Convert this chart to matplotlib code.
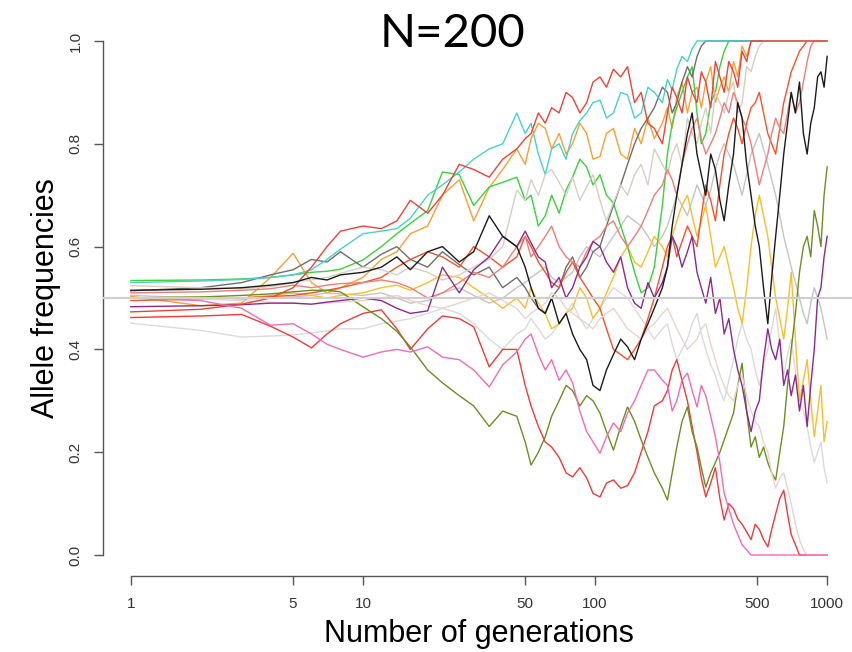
import matplotlib
matplotlib.use("Agg")
import matplotlib.pyplot as plt

# generations sampled along the log axis
generations = [1, 2, 3, 4, 5, 6, 7, 8,
               10, 12, 14, 16, 19, 22, 26, 30, 35, 40,
               46, 50, 53, 57, 61, 65, 70, 75, 80, 86, 92, 98, 105, 112, 120, 129, 138, 148, 158, 169, 180,
               195, 205, 215, 225, 237, 250, 262, 275, 287, 300, 315, 330, 345, 360, 377, 395, 412, 430, 450, 470,
               490, 510, 532, 555, 577, 600, 625, 650, 675, 700, 730, 760, 790, 820, 850, 880, 910, 940, 970, 1000]

cyan = [.530, .533, .536, .540, .545, .555, .575, .595,
        .625, .630, .635, .655, .700, .720, .745, .770, .790, .800,
        .860, .820, .840, .780, .740, .790, .800, .770, .820, .845, .860, .880, .885, .850, .860, .900, .895, .850, .860, .910, .900,
        .880, .925, .905, .945, .970, .960, .985, 1, 1, 1, 1, 1, 1, 1, 1, 1, 1, 1, 1, 1,
        1, 1, 1, 1, 1, 1, 1, 1, 1, 1, 1, 1, 1, 1, 1, 1, 1, 1, 1, 1]
red_top = [.473, .478, .488, .500, .520, .560, .600, .630,
           .640, .635, .650, .690, .665, .700, .760, .750, .735, .770,
           .790, .810, .820, .860, .840, .870, .860, .900, .890, .860, .880, .920, .930, .910, .945, .930, .950, .880, .900, .840, .830,
           .800, .860, .910, .890, .860, .930, .900, .880, .940, .920, .870, .960, .930, .900, .960, .940, .910, .980, .960, 1,
           1, 1, 1, 1, 1, 1, 1, 1, 1, 1, 1, 1, 1, 1, 1, 1, 1, 1, 1, 1]
orange = [.503, .485, .490, .540, .587, .530, .510, .520,
          .540, .575, .590, .625, .640, .700, .730, .650, .715, .750,
          .790, .760, .810, .840, .830, .790, .820, .780, .800, .840, .820, .770, .775, .820, .830, .780, .770, .830, .800, .850, .810,
          .840, .870, .830, .890, .920, .860, .900, .910, .870, .920, .950, .880, .910, .930, .900, .960, .930, .990, .970, 1,
          1, 1, 1, 1, 1, 1, 1, 1, 1, 1, 1, 1, 1, 1, 1, 1, 1, 1, 1, 1]
green = [.534, .535, .537, .540, .545, .550, .552, .556,
         .574, .600, .625, .645, .670, .745, .740, .680, .716, .725,
         .735, .690, .700, .640, .660, .700, .665, .710, .735, .770, .755, .720, .740, .700, .685, .640, .600, .550, .510, .520, .560,
         .680, .780, .840, .870, .900, .930, .950, .860, .800, .820, .880, .900, .950, .980, 1, 1, 1, 1, 1, 1,
         1, 1, 1, 1, 1, 1, 1, 1, 1, 1, 1, 1, 1, 1, 1, 1, 1, 1, 1, 1]
tan = [.524, .520, .518, .522, .530, .535, .540, .548,
       .560, .555, .545, .560, .550, .535, .545, .560, .575, .600,
       .710, .690, .730, .700, .740, .750, .725, .700, .735, .690, .716, .740, .690, .650, .685, .720, .700, .740, .760, .720, .790,
       .760, .740, .780, .800, .760, .850, .820, .800, .840, .870, .820, .900, .880, .860, .900, .920, .860, .880, .950, .940,
       .970, .990, 1, 1, 1, 1, 1, 1, 1, 1, 1, 1, 1, 1, 1, 1, 1, 1, 1, 1]
black = [.515, .517, .520, .525, .530, .540, .535, .545,
         .550, .560, .580, .555, .590, .600, .570, .590, .660, .620,
         .600, .560, .520, .480, .470, .500, .450, .470, .430, .400, .380, .330, .320, .360, .390, .420, .405, .380, .420, .450, .480,
         .520, .560, .640, .700, .760, .820, .860, .780, .740, .700, .780, .750, .690, .650, .720, .780, .880, .850, .760, .700,
         .640, .600, .520, .450, .540, .620, .700, .780, .840, .900, .860, .920, .820, .780, .840, .870, .930, .940, .910, .970]
dark_gray = [.514, .520, .530, .545, .555, .575, .570, .590,
             .560, .585, .600, .575, .560, .590, .565, .545, .560, .520,
             .540, .520, .500, .480, .470, .500, .520, .560, .580, .540, .560, .590, .600, .640, .680, .720, .760, .800, .830, .850, .870,
             .910, .900, .860, .880, .920, .950, .930, .970, .990, 1, 1, 1, 1, 1, 1, 1, 1, 1, 1, 1,
             1, 1, 1, 1, 1, 1, 1, 1, 1, 1, 1, 1, 1, 1, 1, 1, 1, 1, 1, 1]
purple = [.483, .485, .487, .490, .490, .488, .492, .495,
          .500, .495, .480, .470, .475, .560, .510, .555, .580, .620,
          .600, .630, .607, .580, .570, .520, .540, .500, .520, .560, .580, .610, .600, .570, .550, .580, .520, .490, .480, .530, .500,
          .530, .560, .620, .600, .560, .590, .620, .550, .520, .490, .540, .470, .500, .430, .460, .400, .360, .330, .280, .240,
          .280, .300, .380, .440, .400, .380, .420, .330, .360, .310, .350, .280, .330, .250, .330, .400, .500, .520, .580, .620]
hot_pink = [.500, .495, .480, .447, .450, .430, .410, .400,
            .385, .395, .400, .395, .405, .385, .380, .360, .327, .370,
            .395, .420, .430, .390, .360, .380, .340, .360, .335, .280, .240, .220, .198, .230, .257, .240, .276, .300, .330, .360, .360,
            .340, .330, .280, .300, .340, .354, .320, .288, .330, .310, .270, .230, .180, .120, .090, .060, .040, .020, .010, 0,
            0, 0, 0, 0, 0, 0, 0, 0, 0, 0, 0, 0, 0, 0, 0, 0, 0, 0, 0, 0]
red_low = [.462, .465, .468, .445, .424, .403, .430, .450,
           .470, .477, .440, .400, .440, .465, .460, .444, .366, .400,
           .400, .330, .290, .250, .220, .210, .190, .160, .152, .170, .150, .120, .113, .140, .146, .130, .135, .160, .200, .240, .290,
           .300, .320, .360, .380, .340, .300, .250, .200, .150, .113, .140, .170, .110, .068, .100, .090, .070, .060, .045, .030,
           .060, .050, .030, .016, .050, .080, .110, .126, .080, .040, .020, 0, 0, 0, 0, 0, 0, 0, 0, 0]
olive = [.500, .502, .505, .508, .512, .515, .515, .512,
         .483, .460, .435, .405, .360, .335, .310, .290, .250, .280,
         .270, .220, .175, .200, .230, .270, .300, .330, .320, .290, .310, .300, .276, .240, .204, .250, .288, .260, .224, .190, .160,
         .130, .107, .160, .210, .260, .288, .240, .210, .170, .132, .160, .180, .200, .224, .250, .276, .330, .373, .280, .210,
         .230, .190, .210, .180, .160, .146, .200, .250, .330, .400, .470, .550, .600, .620, .580, .670, .640, .600, .700, .755]
gold = [.500, .502, .500, .505, .510, .505, .500, .505,
        .510, .520, .525, .515, .530, .545, .540, .520, .500, .480,
        .500, .480, .520, .490, .470, .440, .450, .470, .480, .520, .500, .460, .480, .510, .540, .580, .600, .570, .560, .590, .620,
        .600, .580, .620, .650, .680, .700, .660, .620, .650, .680, .620, .560, .580, .600, .560, .520, .480, .450, .520, .600,
        .660, .700, .660, .620, .560, .500, .460, .420, .480, .550, .420, .300, .340, .380, .300, .230, .280, .330, .220, .260]
light_gray = [.451, .437, .424, .426, .428, .432, .436, .440,
              .440, .450, .455, .460, .470, .480, .470, .450, .420, .400,
              .430, .440, .460, .440, .420, .430, .450, .470, .490, .460, .440, .460, .480, .500, .520, .510, .500, .480, .460, .440, .420,
              .440, .450, .410, .380, .400, .420, .450, .470, .430, .400, .370, .350, .320, .300, .340, .380, .420, .450, .420, .400,
              .360, .330, .370, .400, .440, .480, .410, .350, .390, .420, .360, .300, .280, .250, .210, .180, .200, .220, .170, .140]
silver = [.505, .500, .498, .500, .502, .505, .510, .508,
          .505, .510, .500, .490, .495, .510, .520, .505, .490, .500,
          .520, .530, .540, .550, .560, .540, .530, .540, .550, .580, .600, .590, .580, .600, .620, .640, .660, .650, .640, .620, .600,
          .620, .640, .670, .700, .680, .660, .690, .720, .700, .680, .710, .750, .780, .800, .780, .760, .730, .700, .740, .780,
          .800, .820, .790, .760, .730, .700, .660, .620, .590, .560, .530, .500, .470, .450, .490, .520, .500, .480, .450, .420]
salmon = [.510, .512, .515, .518, .525, .520, .525, .528,
          .530, .535, .530, .520, .500, .510, .530, .550, .540, .560,
          .600, .620, .580, .600, .620, .640, .600, .580, .570, .560, .590, .610, .620, .640, .650, .620, .600, .620, .640, .670, .700,
          .720, .750, .730, .700, .760, .800, .830, .850, .810, .780, .800, .820, .850, .880, .860, .900, .880, .850, .830, .800,
          .760, .720, .750, .780, .820, .850, .830, .820, .860, .900, .860, .880, .920, .960, .990, 1, 1, 1, 1, 1]
orange_red = [.495, .498, .500, .503, .505, .510, .515, .520,
              .530, .540, .560, .575, .590, .580, .560, .600, .580, .560,
              .580, .620, .600, .570, .550, .530, .520, .550, .570, .540, .520, .500, .480, .440, .400, .390, .380, .400, .420, .460, .500,
              .560, .600, .620, .580, .610, .640, .620, .600, .660, .720, .690, .650, .720, .780, .820, .850, .830, .800, .840, .870,
              .880, .900, .860, .820, .800, .780, .830, .880, .910, .940, .960, .980, .990, 1, 1, 1, 1, 1, 1, 1]
misty_rose = [.500, .498, .495, .492, .490, .488, .490, .492,
              .495, .500, .505, .495, .485, .480, .490, .500, .510, .495,
              .480, .460, .470, .480, .490, .510, .500, .480, .470, .460, .450, .440, .460, .470, .480, .460, .440, .430, .420, .440, .450,
              .470, .480, .460, .440, .420, .400, .410, .420, .440, .450, .410, .380, .350, .330, .310, .300, .330, .350, .310, .280,
              .260, .250, .220, .200, .160, .130, .150, .160, .130, .100, .060, .030, .010, 0, 0, 0, 0, 0, 0, 0]

# drawing order: first is at the bottom
series = [
    (light_gray, "#DADADA"),
    (silver, "#C4C4C4"),
    (gold, "#F8BE2C"),
    (orange, "#F7A035"),
    (green, "#3BD13B"),
    (dark_gray, "#6E6E6E"),
    (orange_red, "#F2532A"),
    (red_low, "#EE3B3B"),
    (olive, "#6B8E23"),
    (cyan, "#48D1CC"),
    (tan, "#D6CFC2"),
    (salmon, "#EE7E7A"),
    (misty_rose, "#EAD3CF"),
    (purple, "#8B2A8B"),
    (red_top, "#E8443A"),
    (black, "#1A1A1A"),
    (hot_pink, "#F26BB5"),
]

xticks = [1, 5, 10, 50, 100, 500, 1000]
yticks = [0.0, 0.2, 0.4, 0.6, 0.8, 1.0]

plt.rcParams["font.family"] = ["Liberation Sans", "DejaVu Sans"]

fig = plt.figure(figsize=(8.53, 6.52), dpi=100)
ax = fig.add_axes([103 / 853, 1 - 575.6 / 652, 752 / 853, 555.2 / 652])

for vals, col in series:
    ax.plot(generations, vals, color=col, lw=1.0)
ax.axhline(0.5, color="#CFCFCF", lw=1.5, zorder=5)

ax.set_xscale("log")
ax.set_xlim(10 ** -0.12, 10 ** 3.12)
ax.set_ylim(-0.04, 1.04)
ax.set_xticks(xticks)
ax.set_xticklabels([str(t) for t in xticks])
ax.minorticks_off()
ax.set_yticks(yticks)
ax.set_yticklabels(["%.1f" % t for t in yticks], rotation=90, va="center")

for s in ["top", "right"]:
    ax.spines[s].set_visible(False)
ax.spines["left"].set_bounds(0, 1)
ax.spines["bottom"].set_bounds(1, 1000)
for s in ["left", "bottom"]:
    ax.spines[s].set_color("#555555")
    ax.spines[s].set_linewidth(1.0)
ax.tick_params(length=6.5, width=1.0, color="#555555", labelcolor="#333333", labelsize=11)
ax.tick_params(axis="x", pad=9)
ax.tick_params(axis="y", pad=8)

ax.set_xlabel("Number of generations", fontsize=22, labelpad=6)
ax.set_ylabel("Allele frequencies", fontsize=22, labelpad=6)
fig.text(453 / 853, 1 - 34 / 652, "N=200", fontsize=34, family="Lato",
         ha="center", va="center")

fig.savefig("out.png", dpi=100)
